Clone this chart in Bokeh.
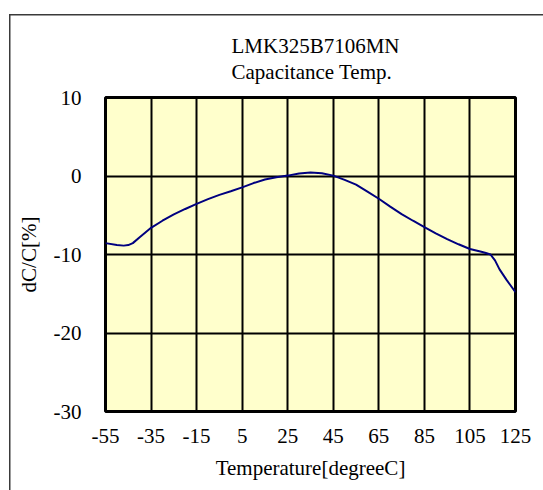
from bokeh.plotting import figure
from bokeh.models import FixedTicker, Title
from bokeh.embed import file_html
from bokeh.resources import INLINE

# Data
temperature = [-55, -50, -47, -45, -43, -40, -35, -30, -25, -20, -15, -10, -5, 0, 5, 10, 15,
               20, 25, 30, 35, 40, 45, 50, 55, 60, 65, 70, 75, 80, 85, 90, 95, 100,
               105, 110, 112, 114, 116, 118, 121, 125]
dc_percent = [-8.55, -8.78, -8.87, -8.8, -8.55, -7.8, -6.6, -5.7, -4.9, -4.2, -3.55, -2.95, -2.4,
              -1.95, -1.45, -0.9, -0.45, -0.15, 0.05, 0.33, 0.45, 0.35, 0.05, -0.5, -1.1,
              -1.98, -2.9, -3.9, -4.85, -5.7, -6.5, -7.3, -8.05, -8.7, -9.3, -9.65,
              -9.8, -10.0, -10.75, -11.9, -13.2, -14.8]
x_ticks = [-55, -35, -15, 5, 25, 45, 65, 85, 105, 125]
y_ticks = [-30, -20, -10, 0, 10]
title_lines = ["LMK325B7106MN", "Capacitance Temp."]
x_label = "Temperature[degreeC]"
y_label = "dC/C[%]"

FONT = "Liberation Serif"
W, H = 543, 490

p = figure(width=W, height=H, output_backend="svg", toolbar_location=None,
           x_range=(-55, 125), y_range=(-30, 10),
           min_border_left=105, min_border_right=28, min_border_top=97,
           min_border_bottom=79)
p.title.visible = False

t = Title(text="\n".join(title_lines), align="left", offset=126,
          text_font=FONT, text_font_size="21px", text_font_style="normal",
          text_color="black", text_line_height=1.12, standoff=26)
p.add_layout(t, "above")

p.background_fill_color = "#FFFFCC"
p.border_fill_color = None
p.outline_line_color = "black"
p.outline_line_width = 3

# outer chart-area border (left and top edges; the rest is cropped away)
p.styles = {
    "background": ("linear-gradient(#3a3a3a, #3a3a3a) 9px 14px / 1.5px 100% no-repeat, "
                   "linear-gradient(#3a3a3a, #3a3a3a) 9px 14px / 100% 1.5px no-repeat, "
                   "white"),
}

p.line(temperature, dc_percent, line_color="#000080", line_width=2)

for ax, ticks in ((p.xaxis, x_ticks), (p.yaxis, y_ticks)):
    ax.ticker = FixedTicker(ticks=ticks)
    ax.major_label_overrides = {v: str(v) for v in ticks}
    ax.axis_line_color = None
    ax.major_tick_line_color = None
    ax.minor_tick_line_color = None
    ax.major_label_text_font = FONT
    ax.major_label_text_font_size = "21px"
    ax.major_label_text_color = "black"
    ax.axis_label_text_font = FONT
    ax.axis_label_text_font_size = "21px"
    ax.axis_label_text_font_style = "normal"
    ax.axis_label_text_color = "black"

p.xaxis.axis_label = x_label
p.yaxis.axis_label = y_label
p.xaxis.major_label_standoff = 11
p.yaxis.major_label_standoff = 18
p.xaxis.axis_label_standoff = 10
p.yaxis.axis_label_standoff = 10

p.xgrid.ticker = FixedTicker(ticks=x_ticks)
p.ygrid.ticker = FixedTicker(ticks=y_ticks)
for g in (p.xgrid, p.ygrid):
    g.grid_line_color = "black"
    g.grid_line_width = 2
    g.grid_line_alpha = 1

open("out.html", "w").write(file_html(p, INLINE))
